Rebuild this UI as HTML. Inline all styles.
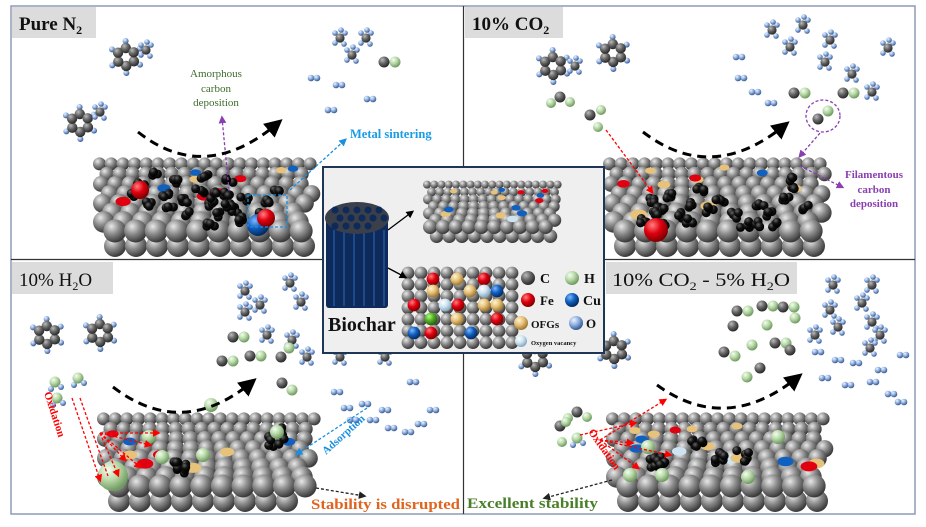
<!DOCTYPE html>
<html><head><meta charset="utf-8">
<style>
html,body{margin:0;padding:0;background:#fff;}
svg{display:block;}
.lbl{font-family:"Liberation Serif",serif;font-weight:bold;fill:#111;}
.t{font-family:"Liberation Serif",serif;font-weight:bold;}
</style></head>
<body>
<svg id="s" width="926" height="527" viewBox="0 0 926 527" xmlns="http://www.w3.org/2000/svg">
<defs>
<radialGradient id="gG" cx="35%" cy="30%" r="70%"><stop offset="0" stop-color="#e8e8e8"/><stop offset="0.5" stop-color="#8a8a8a"/><stop offset="1" stop-color="#3a3a3a"/></radialGradient>
<radialGradient id="gD" cx="35%" cy="30%" r="70%"><stop offset="0" stop-color="#bbb"/><stop offset="0.5" stop-color="#666"/><stop offset="1" stop-color="#2a2a2a"/></radialGradient>
<radialGradient id="gR" cx="35%" cy="30%" r="70%"><stop offset="0" stop-color="#ff8080"/><stop offset="0.5" stop-color="#e00010"/><stop offset="1" stop-color="#800000"/></radialGradient>
<radialGradient id="gB" cx="35%" cy="30%" r="70%"><stop offset="0" stop-color="#7fb8ff"/><stop offset="0.5" stop-color="#1060c0"/><stop offset="1" stop-color="#052a60"/></radialGradient>
<radialGradient id="gT" cx="35%" cy="30%" r="70%"><stop offset="0" stop-color="#fff4d0"/><stop offset="0.5" stop-color="#e6c27a"/><stop offset="1" stop-color="#a07830"/></radialGradient>
<radialGradient id="gL" cx="35%" cy="30%" r="70%"><stop offset="0" stop-color="#f2fff0"/><stop offset="0.5" stop-color="#b8d8a8"/><stop offset="1" stop-color="#6f9a60"/></radialGradient>
<radialGradient id="gH" cx="35%" cy="30%" r="70%"><stop offset="0" stop-color="#eef5ff"/><stop offset="0.5" stop-color="#8fb0e0"/><stop offset="1" stop-color="#3a5a90"/></radialGradient>
<radialGradient id="gK" cx="35%" cy="30%" r="70%"><stop offset="0" stop-color="#666"/><stop offset="0.5" stop-color="#111"/><stop offset="1" stop-color="#000"/></radialGradient>
<radialGradient id="gV" cx="35%" cy="30%" r="70%"><stop offset="0" stop-color="#fff"/><stop offset="0.5" stop-color="#cfe4f2"/><stop offset="1" stop-color="#88a8c0"/></radialGradient>
<radialGradient id="gGr" cx="35%" cy="30%" r="70%"><stop offset="0" stop-color="#b0ff80"/><stop offset="0.5" stop-color="#50b020"/><stop offset="1" stop-color="#2a6010"/></radialGradient>
<marker id="aK" markerWidth="6" markerHeight="6" refX="4" refY="3" orient="auto"><path d="M0,0 L6,3 L0,6 Z" fill="#000"/></marker>
<marker id="aP" markerWidth="6" markerHeight="6" refX="4" refY="3" orient="auto"><path d="M0,0 L6,3 L0,6 Z" fill="#8a3fb0"/></marker>
<marker id="aBl" markerWidth="6" markerHeight="6" refX="4" refY="3" orient="auto"><path d="M0,0 L6,3 L0,6 Z" fill="#1a8fe0"/></marker>
<marker id="aR" markerWidth="6" markerHeight="6" refX="4" refY="3" orient="auto"><path d="M0,0 L6,3 L0,6 Z" fill="#f00"/></marker>
<marker id="aS" markerWidth="6" markerHeight="6" refX="4" refY="3" orient="auto"><path d="M0,0 L6,3 L0,6 Z" fill="#222"/></marker>
</defs>
<rect x="0" y="0" width="926" height="527" fill="#fff"/>
<g id="mol"></g>
<rect x="11" y="6" width="904" height="508" fill="none" stroke="#8d9ab5" stroke-width="1.5"/>
<line x1="463.5" y1="6" x2="463.5" y2="514" stroke="#333" stroke-width="1.2"/>
<line x1="11" y1="259.5" x2="915" y2="259.5" stroke="#333" stroke-width="1.2"/>

<rect x="12" y="7" width="84" height="31" fill="#dcdcdc"/>
<text x="19" y="30" class="lbl" font-size="19">Pure N<tspan font-size="12" dy="4">2</tspan></text>
<rect x="465" y="7" width="98" height="31" fill="#dcdcdc"/>
<text x="472" y="30" class="lbl" font-size="19">10% CO<tspan font-size="12" dy="4">2</tspan></text>
<rect x="12" y="262" width="101" height="32" fill="#dcdcdc"/>
<text x="19" y="286" class="lbl" font-size="19" style="font-weight:normal">10% H<tspan font-size="12" dy="4">2</tspan><tspan dy="-4">O</tspan></text>
<rect x="606" y="262" width="191" height="32" fill="#dcdcdc"/>
<text x="612" y="286" class="lbl" font-size="19" style="font-weight:normal" textLength="178" lengthAdjust="spacingAndGlyphs">10% CO<tspan font-size="12" dy="4">2</tspan><tspan dy="-4"> - 5% H</tspan><tspan font-size="12" dy="4">2</tspan><tspan dy="-4">O</tspan></text>

<g id="fg"></g>

<rect x="323" y="167" width="281" height="186" fill="#efefef" stroke="#1f3556" stroke-width="2"/>
<g id="center"></g>
<text x="328" y="331" class="t" font-size="20" fill="#111">Biochar</text>
<g font-family="Liberation Serif,serif" font-weight="bold" fill="#111">
<text x="540" y="283" font-size="14">C</text>
<text x="584" y="283" font-size="14">H</text>
<text x="540" y="305" font-size="13">Fe</text>
<text x="583" y="305" font-size="14">Cu</text>
<text x="531" y="328" font-size="11">OFGs</text>
<text x="586" y="328" font-size="13">O</text>
<text x="531" y="345" font-size="6.5">Oxygen vacancy</text>
</g>

<g font-family="Liberation Serif,serif" font-size="11" fill="#3d6b2c" text-anchor="middle">
<text x="216" y="77">Amorphous</text><text x="216" y="92">carbon</text><text x="216" y="106">deposition</text>
</g>
<text x="350" y="138" class="t" font-size="12.5" fill="#1a9be6">Metal sintering</text>
<g class="t" font-size="11" fill="#8a3fb0" text-anchor="middle">
<text x="874" y="178">Filamentous</text><text x="874" y="193">carbon</text><text x="874" y="207">deposition</text>
</g>
<text x="311" y="509" class="t" font-size="15" fill="#e0641f" textLength="149" lengthAdjust="spacingAndGlyphs">Stability is disrupted</text>
<text x="467" y="508" class="t" font-size="15" fill="#4a7f2a" textLength="131" lengthAdjust="spacingAndGlyphs">Excellent stability</text>
<text transform="translate(44,393) rotate(72)" class="t" font-size="11" fill="#f00">Oxidation</text>
<text transform="translate(588,432) rotate(55)" class="t" font-size="11" fill="#f00">Oxidation</text>
<text transform="translate(326,455) rotate(-42)" class="t" font-size="11" fill="#1a8fe0">Adsorption</text>

<g fill="none" stroke-dasharray="3,2" stroke-width="1.3">
<line x1="229" y1="190" x2="222" y2="118" stroke="#8a3fb0" marker-end="url(#aP)"/>
<line x1="290" y1="190" x2="345" y2="140" stroke="#1a8fe0" marker-end="url(#aBl)"/>
<rect x="248" y="195" width="39" height="32" stroke="#1a8fe0"/>
<ellipse cx="823" cy="116" rx="17" ry="16" stroke="#8a3fb0"/>
<line x1="820" y1="133" x2="800" y2="156" stroke="#8a3fb0" marker-end="url(#aP)"/>
<line x1="800" y1="166" x2="842" y2="187" stroke="#8a3fb0" marker-end="url(#aP)"/>
<line x1="606" y1="130" x2="652" y2="192" stroke="#f00" marker-end="url(#aR)"/>
<line x1="367" y1="408" x2="297" y2="454" stroke="#1a8fe0" marker-end="url(#aBl)"/>
<line x1="316" y1="488" x2="364" y2="496" stroke="#222" marker-end="url(#aS)"/>
<line x1="612" y1="480" x2="545" y2="498" stroke="#222" marker-end="url(#aS)"/>
<g stroke="#f00">
<line x1="72" y1="398" x2="100" y2="480" marker-end="url(#aR)"/>
<line x1="80" y1="398" x2="108" y2="476" />
<line x1="100" y1="433" x2="158" y2="433" marker-end="url(#aR)"/>
<line x1="100" y1="433" x2="150" y2="445" marker-end="url(#aR)"/>
<line x1="100" y1="433" x2="125" y2="460" marker-end="url(#aR)"/>
<line x1="100" y1="433" x2="140" y2="467" marker-end="url(#aR)"/>
<line x1="100" y1="433" x2="118" y2="475" marker-end="url(#aR)"/>
<line x1="580" y1="435" x2="635" y2="423" marker-end="url(#aR)"/>
<line x1="600" y1="440" x2="632" y2="443" marker-end="url(#aR)"/>
<line x1="600" y1="440" x2="670" y2="455" marker-end="url(#aR)"/>
<line x1="600" y1="440" x2="638" y2="468" marker-end="url(#aR)"/>
<line x1="600" y1="440" x2="665" y2="400" marker-end="url(#aR)"/>
</g>
</g>
<g fill="none" stroke="#000" stroke-width="3" stroke-dasharray="9,6">
<path d="M138,132 Q205,185 278,123" marker-end="url(#aK)"/>
<path d="M643,132 Q712,185 785,125" marker-end="url(#aK)"/>
<path d="M113,387 Q182,440 252,382" marker-end="url(#aK)"/>
<path d="M657,385 Q726,435 798,377" marker-end="url(#aK)"/>
</g>
<line x1="388" y1="230" x2="412" y2="212" stroke="#000" stroke-width="1.3" marker-end="url(#aK)"/>
<line x1="388" y1="268" x2="405" y2="277" stroke="#000" stroke-width="1.3" marker-end="url(#aK)"/>
</svg>
<script>
(function(){
var NS="http://www.w3.org/2000/svg";
function el(p,tag,a){var e=document.createElementNS(NS,tag);for(var k in a)e.setAttribute(k,a[k]);p.appendChild(e);return e;}
var fg=document.getElementById('fg'),mol=document.getElementById('mol'),cen=document.getElementById('center');
function ball(p,x,y,r,g){el(p,'circle',{cx:x,cy:y,r:r,fill:'url(#'+g+')'});}
var seed=7;function rnd(){seed=(seed*9301+49297)%233280;return seed/233280;}
function slab(p,x0,y0,x1,y1,opt){
  var s=opt.s||1,rows=opt.rows||8,H=y1-y0;
  var br=11*s;
  for(var x=x0+22*s;x<=x1-16*s;x+=br*2-1)ball(p,x,y1-br,br,'gG');
  for(var i=0;i<rows;i++){
    var t=i/(rows-1);
    var r=(6.5+t*5)*s, y=y0+r*0.9+t*(H-26*s-r*0.9);
    var step=r*1.8, off=(i%2)*step/2;
    for(var x=x0+r+off;x<=x1-r+1;x+=step)ball(p,x,y,r,'gG');
  }
  var cols=opt.cols;
  for(var n=0;n<opt.n;n++){
    var t=rnd(), r=(5+t*4)*s, y=y0+8*s+t*(H-45*s), x=x0+15+rnd()*(x1-x0-30);
    var c=cols[Math.floor(rnd()*cols.length)];
    el(p,'ellipse',{cx:x,cy:y,rx:r,ry:r*0.6,fill:c});
  }
  for(var n=0;n<opt.k;n++){
    var cx=x0+40+rnd()*(x1-x0-80), cy=y0+20+rnd()*(H-60);
    for(var m=0;m<7;m++)ball(p,cx+(rnd()-.5)*12,cy+(rnd()-.5)*12,4.5,'gK');
  }
}
slab(fg,93,158,320,257,{cols:['#e00010','#e00010','#e6c27a','#1060c0'],n:9,k:0});
var blk=[[140,185],[155,175],[165,195],[150,205],[175,180],[185,200],[200,190],[210,205],[225,195],[235,210],[245,200],[230,180],[220,215],[190,215],[130,195],[170,210],[260,215],[265,200],[275,190],[205,175],[240,220],[210,225],[215,195],[228,205]];
blk.forEach(function(b){for(var m=0;m<4;m++)ball(fg,b[0]+(rnd()-.5)*9,b[1]+(rnd()-.5)*7,4.5,'gK');});
ball(fg,258,225,11,'gB');ball(fg,266,218,9,'gR');ball(fg,140,190,9,'gR');
slab(fg,603,158,831,257,{cols:['#e00010','#e6c27a','#e6c27a','#1060c0'],n:10,k:0});
var blk2=[[650,200],[660,210],[670,195],[680,215],[690,205],[700,190],[710,210],[720,200],[665,225],[645,222],[735,215],[745,225],[760,205],[770,215],[785,200],[795,190],[790,178],[805,208],[775,225],[760,225],[655,215],[690,220]];
blk2.forEach(function(b){for(var m=0;m<4;m++)ball(fg,b[0]+(rnd()-.5)*9,b[1]+(rnd()-.5)*7,4.5,'gK');});
ball(fg,656,230,12,'gR');
slab(fg,97,413,322,512,{cols:['#e00010','#e6c27a','#1060c0','#e00010'],n:8,k:4});
ball(fg,113,476,15,'gL');ball(fg,211,405,7,'gL');ball(fg,162,457,7,'gL');ball(fg,203,455,7,'gL');ball(fg,277,432,7,'gL');ball(fg,149,437,7,'gL');
slab(fg,606,413,833,512,{cols:['#e6c27a','#e6c27a','#e00010','#1060c0','#cfe4f2'],n:14,k:5});
[[630,475],[662,475],[748,477],[648,447],[778,437]].forEach(function(b){ball(fg,b[0],b[1],7,'gL');});

function benz(x,y,s){s=s||1;for(var i=0;i<6;i++){var a=i*Math.PI/3+0.5;ball(mol,x+Math.cos(a)*16*s,y+Math.sin(a)*16*s,3,'gH');}
 for(var i=0;i<6;i++){var a=i*Math.PI/3+0.5;ball(mol,x+Math.cos(a)*9*s,y+Math.sin(a)*9*s,5.2*s,'gD');}}
function ch4(x,y){ball(mol,x-5,y-5,2.8,'gH');ball(mol,x+5,y-5,2.8,'gH');ball(mol,x-5,y+5,2.8,'gH');ball(mol,x+4,y+6,2.8,'gH');ball(mol,x,y,4.6,'gD');ball(mol,x+1,y-8,2.8,'gH');}
function h2(x,y){ball(mol,x,y,3.3,'gH');ball(mol,x+6,y,3.3,'gH');}
function co(x,y){ball(mol,x,y,5.5,'gD');ball(mol,x+11,y,5.5,'gL');}
function co2(x,y){ball(mol,x-9,y+6,5,'gL');ball(mol,x,y,5.5,'gD');ball(mol,x+10,y+5,5,'gL');}
function h2o(x,y){ball(mol,x,y,5.5,'gL');ball(mol,x+6,y+5,3,'gH');ball(mol,x-4,y+7,3,'gH');}
benz(126,57);ch4(146,50);benz(80,123);ch4(100,112);
ch4(340,38);ch4(366,38);ch4(352,55);co(384,62);
h2(311,78);h2(336,85);h2(328,110);h2(367,99);
benz(553,66);ch4(575,66);benz(613,53);co2(560,97);ball(mol,590,115,5.5,'gD');ball(mol,601,110,5,'gL');ball(mol,598,127,5,'gL');
[[772,30],[803,25],[790,47],[830,40],[825,62],[852,74],[888,48],[872,92]].forEach(function(p){ch4(p[0],p[1]);});
h2(736,57);h2(738,78);h2(752,92);h2(768,103);co(794,93);co(843,93);ball(mol,818,119,5.5,'gD');ball(mol,828,111,5.5,'gL');
benz(47,335);benz(100,333);
h2o(55,382);h2o(78,378);h2o(57,398);
[[245,291],[290,283],[301,302],[245,312],[267,335],[292,340],[307,357],[340,357],[385,357],[260,305]].forEach(function(p){ch4(p[0],p[1]);});
co(233,337);co(222,361);co(250,356);ball(mol,281,357,5.5,'gD');ball(mol,289,348,5.5,'gL');ball(mol,282,383,5.5,'gD');ball(mol,292,390,5.5,'gL');
[[334,392],[344,408],[362,404],[382,410],[410,382],[405,432],[418,424],[388,428],[350,420],[370,420],[430,410]].forEach(function(p){h2(p[0],p[1]);});
benz(535,358);benz(614,350);
[[833,285],[872,285],[862,303],[830,310],[872,322],[838,327],[880,335],[815,335],[870,348]].forEach(function(p){ch4(p[0],p[1]);});
co(737,311);co(762,306);ball(mol,733,326,5.5,'gD');ball(mol,752,345,5.5,'gL');ball(mol,724,352,5.5,'gD');ball(mol,735,356,5.5,'gL');
co(775,343);ball(mol,790,350,5.5,'gD');ball(mol,767,325,5.5,'gL');ball(mol,760,368,5.5,'gD');ball(mol,747,377,5.5,'gL');
co(783,307);ball(mol,795,318,5.5,'gL');
[[815,352],[835,360],[853,363],[878,370],[900,355],[845,385],[870,382],[888,394],[898,402],[822,378]].forEach(function(p){h2(p[0],p[1]);});
co2(577,412);ball(mol,560,426,5.5,'gD');ball(mol,566,422,5,'gL');ball(mol,562,442,5,'gL');h2o(577,438);
var cg=el(cen,'g',{});
el(cg,'rect',{x:326,y:220,width:62,height:88,rx:3,fill:'#0d2a5a'});
for(var i=0;i<6;i++)el(cg,'line',{x1:334+i*10,y1:230,x2:334+i*10,y2:306,stroke:'#1d4a8a','stroke-width':2});
el(cg,'ellipse',{cx:357,cy:218,rx:32,ry:16,fill:'#3a3f4a'});
for(var i=0;i<14;i++){el(cg,'circle',{cx:335+(i%5)*11+(Math.floor(i/5)%2)*5,cy:210+Math.floor(i/5)*8,r:3.5,fill:'#0d2a5a'});}
slab(cen,423,181,563,243,{s:0.62,rows:7,cols:['#e00010','#e6c27a','#e6c27a','#1060c0','#cfe4f2'],n:14,k:0});
for(var r=0;r<7;r++)for(var c=0;c<9;c++)ball(cen,408+c*13,273+r*11.6,6.4,'gG');
[[433,279,'gR'],[457,279,'gT'],[484,279,'gR'],[433,291,'gT'],[470,291,'gT'],[484,291,'gV'],[497,291,'gB'],[414,305,'gR'],[445,305,'gV'],[458,305,'gR'],[484,305,'gT'],[497,305,'gT'],[431,319,'gGr'],[457,319,'gT'],[497,319,'gR'],[414,333,'gB'],[431,333,'gR'],[471,333,'gB']].forEach(function(b){ball(cen,b[0],b[1],6.4,b[2]);});
ball(cen,528,278,7,'gD');ball(cen,572,278,7,'gL');ball(cen,528,300,7,'gR');ball(cen,572,300,7,'gB');ball(cen,521,323,7,'gT');ball(cen,576,323,7,'gH');ball(cen,521,341,6,'gV');
})();
</script>
</body></html>
